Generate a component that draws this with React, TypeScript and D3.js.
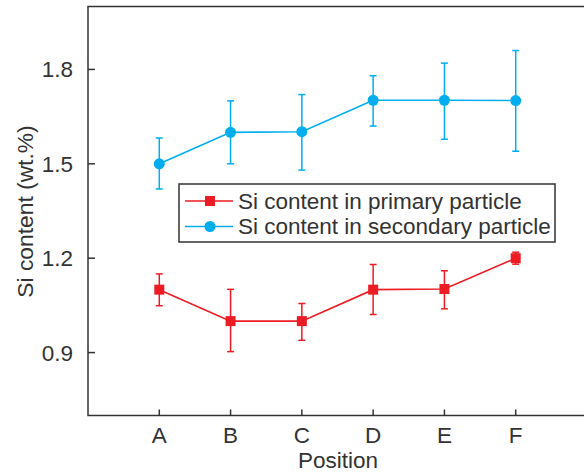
import React from "react";
import * as d3 from "d3";

const positions = ["A", "B", "C", "D", "E", "F"];
const primaryMean = [1.1, 1.0, 1.0, 1.1, 1.102, 1.2];
const primaryHi = [1.15, 1.101, 1.056, 1.18, 1.16, 1.219];
const primaryLo = [1.049, 0.903, 0.939, 1.021, 1.039, 1.181];
const secondaryMean = [1.5, 1.6, 1.602, 1.702, 1.702, 1.701];
const secondaryHi = [1.582, 1.7, 1.72, 1.78, 1.82, 1.86];
const secondaryLo = [1.42, 1.5, 1.48, 1.62, 1.578, 1.54];
const yTicks = [0.9, 1.2, 1.5, 1.8];

const width = 584;
const height = 473;
const RED = "#ed1c24";
const BLUE = "#00aeef";
const INK = "#333333";
const FONT = "'Liberation Sans', Arial, sans-serif";

export default function App() {
  const x = d3.scaleLinear().domain([0, 7]).range([88, 587]);
  const y = d3.scaleLinear().domain([0.7, 2.0]).range([415.5, 6.5]);
  const line = d3
    .line<number>()
    .x((d, i) => x(i + 1))
    .y((d) => y(d));

  const errorBars = (hi: number[], lo: number[], color: string) =>
    hi.map((h, i) => {
      const cx = x(i + 1);
      return (
        <g key={i} stroke={color} strokeWidth={1.5}>
          <line x1={cx} x2={cx} y1={y(h)} y2={y(lo[i])} />
          <line x1={cx - 3.5} x2={cx + 3.5} y1={y(h)} y2={y(h)} />
          <line x1={cx - 3.5} x2={cx + 3.5} y1={y(lo[i])} y2={y(lo[i])} />
        </g>
      );
    });

  return (
    <svg
      width={width}
      height={height}
      style={{ position: "absolute", left: 0, top: 0, background: "#fff" }}
      fontFamily={FONT}
    >
      {/* frame */}
      <rect
        x={x(0)}
        y={y(2.0)}
        width={x(7) - x(0)}
        height={y(0.7) - y(2.0)}
        fill="none"
        stroke={INK}
        strokeWidth={1.5}
      />

      {/* y ticks */}
      {yTicks.map((t) => (
        <g key={t}>
          <line x1={x(0)} x2={x(0) + 7} y1={y(t)} y2={y(t)} stroke={INK} strokeWidth={1.5} />
          <text x={73} y={y(t) + 8} textAnchor="end" fontSize={22.5} fill={INK}>
            {d3.format(".1f")(t)}
          </text>
        </g>
      ))}

      {/* x ticks */}
      {positions.map((p, i) => (
        <g key={p}>
          <line x1={x(i + 1)} x2={x(i + 1)} y1={y(0.7)} y2={y(0.7) - 6} stroke={INK} strokeWidth={1.5} />
          <text x={x(i + 1)} y={443} textAnchor="middle" fontSize={22.5} fill={INK}>
            {p}
          </text>
        </g>
      ))}

      <text x={338} y={468} textAnchor="middle" fontSize={22.5} fill={INK}>
        Position
      </text>
      <text
        transform={`translate(33, 211.5) rotate(-90)`}
        textAnchor="middle"
        fontSize={22.8}
        fill={INK}
      >
        Si content (wt.%)
      </text>

      {/* secondary series */}
      {errorBars(secondaryHi, secondaryLo, BLUE)}
      <path d={line(secondaryMean) || ""} fill="none" stroke={BLUE} strokeWidth={1.6} />
      {secondaryMean.map((v, i) => (
        <circle key={i} cx={x(i + 1)} cy={y(v)} r={5.5} fill={BLUE} />
      ))}

      {/* primary series */}
      {errorBars(primaryHi, primaryLo, RED)}
      <path d={line(primaryMean) || ""} fill="none" stroke={RED} strokeWidth={1.6} />
      {primaryMean.map((v, i) => (
        <rect key={i} x={x(i + 1) - 5} y={y(v) - 5} width={10} height={10} fill={RED} />
      ))}

      {/* legend */}
      <g>
        <rect x={179} y={184} width={376} height={58} fill="#fff" stroke={INK} strokeWidth={1.5} />
        <line x1={185} x2={233} y1={201} y2={201} stroke={RED} strokeWidth={1.6} />
        <rect x={205} y={196} width={10} height={10} fill={RED} />
        <text x={238} y={208.5} fontSize={22.5} fill={INK}>
          Si content in primary particle
        </text>
        <line x1={185} x2={233} y1={226.5} y2={226.5} stroke={BLUE} strokeWidth={1.6} />
        <circle cx={210} cy={226.5} r={5.5} fill={BLUE} />
        <text x={238} y={234} fontSize={22.5} fill={INK}>
          Si content in secondary particle
        </text>
      </g>
    </svg>
  );
}
